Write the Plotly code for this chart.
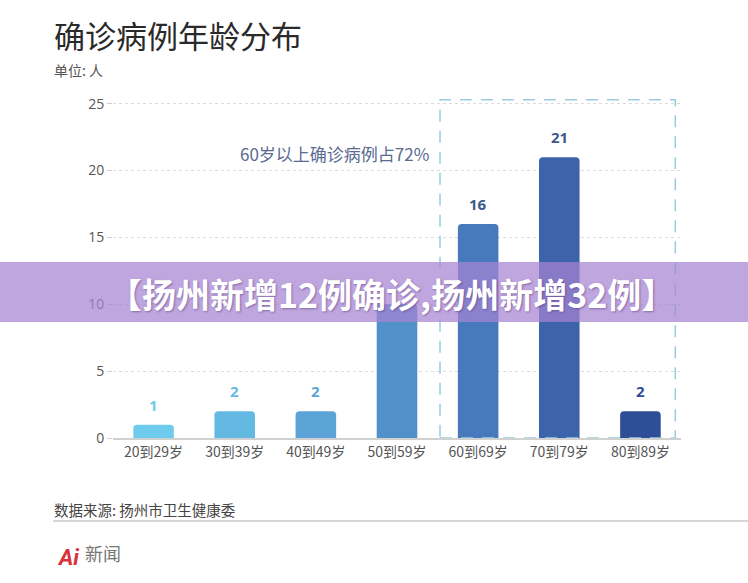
import plotly.graph_objects as go

categories = ["20到29岁", "30到39岁", "40到49岁", "50到59岁", "60到69岁", "70到79岁", "80到89岁"]
values = [1, 2, 2, 10, 16, 21, 2]
# value labels visible in the reference (the 50到59岁 label is hidden under the banner)
value_labels = ["1", "2", "2", "", "16", "21", "2"]
bar_colors = ["#6fcbee", "#64b9e3", "#5ba3d6", "#5290c9", "#467abd", "#3d63ab", "#2f4e98"]
label_colors = ["#6fcbee", "#64b9e3", "#5ba3d6", "#5290c9", "#3d5a8c", "#3d5a8c", "#2f4e98"]
y_ticks = [0, 5, 10, 15, 20, 25]

W, H = 748, 583
L, R, T, B = 113, 67, 97, 145
PW, PH = W - L - R, H - T - B

def px(x):
    return (x - L) / PW

def py(y):
    return (H - B - y) / PH

CJK = "Noto Sans CJK SC"

fig = go.Figure()
fig.add_trace(go.Bar(
    x=categories, y=values,
    marker=dict(color=bar_colors, cornerradius=4, line=dict(width=0)),
    width=0.5,
    cliponaxis=False,
))

fig.update_layout(
    width=W, height=H,
    margin=dict(l=L, r=R, t=T, b=B),
    plot_bgcolor="white", paper_bgcolor="white",
    showlegend=False,
    font=dict(family=CJK, color="#555"),
    xaxis=dict(
        range=[-0.5, 6.5], showgrid=False,
        showline=True, linecolor="#d0d0d0", linewidth=2,
        ticks="", tickfont=dict(size=14, color="#555", family=CJK),
    ),
    yaxis=dict(
        range=[0, 25.5], tickvals=y_ticks,
        showgrid=True, gridcolor="#dcdcdc", griddash="dot", gridwidth=1,
        zeroline=False, showline=False,
        ticks="outside", ticklen=5, tickcolor="#cccccc",
        tickfont=dict(size=14, color="#555", family="Open Sans"),
    ),
    bargap=0.5,
)

# dashed highlight box around 60+ groups
fig.add_shape(type="rect", xref="x", yref="y",
              x0=3.53, x1=6.43, y0=0, y1=25.3,
              line=dict(color="#98cde0", width=1.5, dash="12px,9px"),
              fillcolor="rgba(0,0,0,0)", layer="above")

# purple banner
fig.add_shape(type="rect", xref="paper", yref="paper",
              x0=px(0), x1=px(W), y0=py(322), y1=py(262),
              line=dict(width=0), fillcolor="rgba(166,132,211,0.72)", layer="above")

ann = []
# value labels above bars
for c, v, t, col in zip(categories, values, value_labels, label_colors):
    if t:
        ann.append(dict(text="<b>" + t + "</b>", x=c, y=v, xref="x", yref="y",
                        yanchor="bottom", yshift=8, showarrow=False,
                        font=dict(size=15, color=col, family="Open Sans")))

paper_ann = [
    dict(text="确诊病例年龄分布", x=px(52), y=py(35), xanchor="left", yanchor="middle",
         font=dict(size=31, color="#2a2a2a", family=CJK)),
    dict(text="单位: 人", x=px(52), y=py(70), xanchor="left", yanchor="middle",
         font=dict(size=14, color="#555", family=CJK)),
    dict(text="60岁以上确诊病例占72%", x=px(431), y=py(153), xanchor="right", yanchor="middle",
         font=dict(size=17, color="#5a6a90", family=CJK)),
    dict(text="【扬州新增12例确诊,扬州新增32例】", x=px(391), y=py(293), xanchor="center", yanchor="middle",
         font=dict(size=34, color="white", family=CJK, weight="bold", shadow="1px 1px 2px rgba(80,50,120,0.5)")),
    dict(text="数据来源: 扬州市卫生健康委", x=px(52), y=py(509), xanchor="left", yanchor="middle",
         font=dict(size=14.5, color="#444", family=CJK)),
    dict(text="<b><i>Ai</i></b>", x=px(55), y=py(557), xanchor="left", yanchor="middle",
         font=dict(size=22, color="#d8333a", family="Roboto")),
    dict(text="新闻", x=px(83), y=py(553), xanchor="left", yanchor="middle",
         font=dict(size=18, color="#777", family=CJK)),
]
for a in paper_ann:
    a.update(xref="paper", yref="paper", showarrow=False)
fig.update_layout(annotations=ann + paper_ann)

fig.add_shape(type="line", xref="paper", yref="paper",
              x0=px(53), x1=px(W), y0=py(521), y1=py(521),
              line=dict(color="#d6d6d6", width=2))

fig.write_html("out.html")
